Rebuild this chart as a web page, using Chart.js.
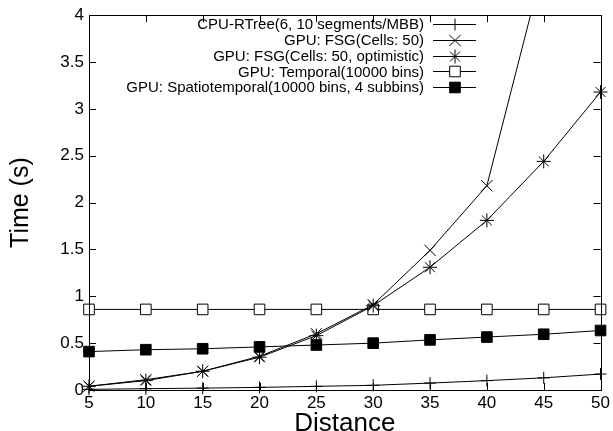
<!DOCTYPE html>
<html>
<head>
<meta charset="utf-8">
<script src="https://cdn.jsdelivr.net/npm/chart.js@4/dist/chart.umd.min.js"></script>
<style>
  html, body { margin: 0; padding: 0; background: #fff; }
  #wrap { width: 613px; height: 431px; }
</style>
</head>
<body>
<div id="wrap"><canvas id="chart"></canvas></div>
<script>
var distances = [5, 10, 15, 20, 25, 30, 35, 40, 45, 50];
var cpuRtree = [0.007, 0.014, 0.02, 0.028, 0.039, 0.05, 0.074, 0.1, 0.13, 0.17];
var gpuFsg = [0.04, 0.11, 0.2, 0.36, 0.6, 0.91, 1.49, 2.18, 4.55, 7.5];
var gpuFsgOpt = [0.04, 0.1, 0.2, 0.35, 0.58, 0.9, 1.31, 1.81, 2.44, 3.18];
var gpuTemporal = [0.86, 0.86, 0.86, 0.86, 0.86, 0.86, 0.86, 0.86, 0.86, 0.86];
var gpuSpatio = [0.41, 0.43, 0.44, 0.46, 0.48, 0.5, 0.535, 0.565, 0.595, 0.635];

var seriesLabels = [
  'CPU-RTree(6, 10 segments/MBB)',
  'GPU: FSG(Cells: 50)',
  'GPU: FSG(Cells: 50, optimistic)',
  'GPU: Temporal(10000 bins)',
  'GPU: Spatiotemporal(10000 bins, 4 subbins)'
];

var FONT = "'Liberation Sans', Arial, Helvetica, sans-serif";
var edgeClip = { left: 10, right: 10, top: 0, bottom: 10 };

function makeSet(label, data, style, radius, fill) {
  return {
    label: label,
    data: data,
    borderColor: '#000',
    borderWidth: 1,
    backgroundColor: fill,
    pointStyle: style,
    pointRadius: radius,
    pointHoverRadius: radius,
    pointBorderColor: '#000',
    pointBackgroundColor: fill,
    pointBorderWidth: 1,
    tension: 0,
    fill: false,
    clip: edgeClip
  };
}

// gnuplot-like frame, inward ticks on all four sides, and the key in the top right
var framePlugin = {
  id: 'frame',
  afterDraw: function(chart) {
    var ctx = chart.ctx;
    var a = chart.chartArea;
    var xs = chart.scales.x, ys = chart.scales.y;
    var len = 7;
    ctx.save();
    ctx.strokeStyle = '#000';
    ctx.lineWidth = 1;
    ctx.strokeRect(Math.round(a.left) + 0.5, Math.round(a.top) + 0.5,
      Math.round(a.right - a.left), Math.round(a.bottom - a.top));
    ctx.beginPath();
    for (var i = 0; i < xs.ticks.length; i++) {
      var px = Math.round(xs.getPixelForTick(i)) + 0.5;
      ctx.moveTo(px, a.bottom); ctx.lineTo(px, a.bottom - len);
      ctx.moveTo(px, a.top); ctx.lineTo(px, a.top + len);
    }
    for (var j = 0; j < ys.ticks.length; j++) {
      var py = Math.round(ys.getPixelForValue(ys.ticks[j].value)) + 0.5;
      ctx.moveTo(a.left, py); ctx.lineTo(a.left + len, py);
      ctx.moveTo(a.right, py); ctx.lineTo(a.right - len, py);
    }
    ctx.stroke();

    // key
    ctx.font = '15px ' + FONT;
    ctx.textAlign = 'right';
    ctx.textBaseline = 'middle';
    ctx.fillStyle = '#000';
    chart.data.datasets.forEach(function(ds, k) {
      var y = 24 + k * 15.8;
      ctx.fillText(ds.label, 424, y + 1);
      ctx.beginPath();
      ctx.moveTo(433, Math.round(y) + 0.5);
      ctx.lineTo(476, Math.round(y) + 0.5);
      ctx.stroke();
      ctx.fillStyle = ds.pointBackgroundColor;
      ctx.strokeStyle = '#000';
      Chart.helpers.drawPoint(ctx, {
        pointStyle: ds.pointStyle,
        radius: ds.pointRadius,
        borderWidth: 1,
        rotation: 0
      }, 455, Math.round(y) + 0.5);
      ctx.fillStyle = '#000';
    });
    ctx.restore();
  }
};

new Chart(document.getElementById('chart'), {
  type: 'line',
  data: {
    labels: distances,
    datasets: [
      makeSet(seriesLabels[0], cpuRtree, 'cross', 6, '#000'),
      makeSet(seriesLabels[1], gpuFsg, 'crossRot', 8, '#000'),
      makeSet(seriesLabels[2], gpuFsgOpt, 'star', 7, '#000'),
      makeSet(seriesLabels[3], gpuTemporal, 'rect', 7.5, '#fff'),
      makeSet(seriesLabels[4], gpuSpatio, 'rect', 7.5, '#000')
    ]
  },
  options: {
    responsive: true,
    maintainAspectRatio: false,
    animation: false,
    layout: { padding: { top: 12, right: 10, left: 0, bottom: 0 } },
    plugins: {
      legend: { display: false },
      tooltip: { enabled: false }
    },
    scales: {
      x: {
        type: 'category',
        offset: false,
        grid: { display: false, drawTicks: false },
        border: { display: false },
        ticks: { color: '#000', font: { family: FONT, size: 17 }, padding: 3, maxRotation: 0, autoSkip: false },
        title: { display: true, text: 'Distance', color: '#000', font: { family: FONT, size: 26, lineHeight: 1 }, padding: { top: 0, bottom: -6 } },
        afterFit: function(scale) { scale.height = 41; }
      },
      y: {
        min: 0,
        max: 4,
        grid: { display: false, drawTicks: false },
        border: { display: false },
        ticks: {
          stepSize: 0.5, color: '#000', font: { family: FONT, size: 17 }, padding: 5,
          callback: function(v) { return String(Math.round(v * 10) / 10); }
        },
        title: { display: true, text: 'Time (s)', color: '#000', font: { family: FONT, size: 25, lineHeight: 1 }, padding: { top: 9, bottom: 0 } },
        afterFit: function(scale) { scale.width = 89; }
      }
    }
  },
  plugins: [framePlugin]
});
</script>
</body>
</html>
